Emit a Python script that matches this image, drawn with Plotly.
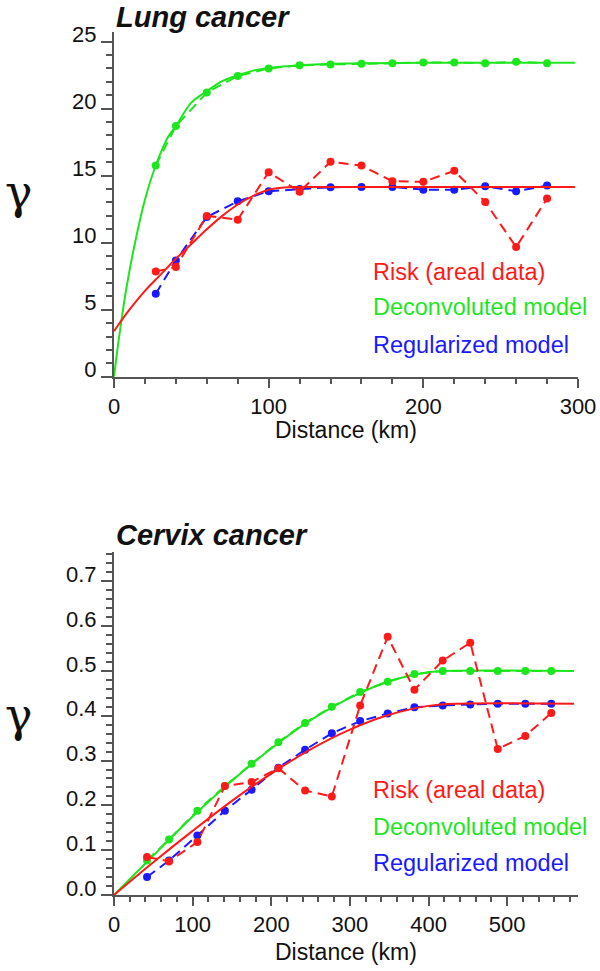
import plotly.graph_objects as go

# ---------------- Lung cancer (top) ----------------
lung_lags = [27, 40, 60, 80, 100, 120, 140, 160, 180, 200, 220, 240, 260, 280]
lung_risk = [7.85, 8.18, 12.0, 11.72, 15.26, 13.8, 16.04, 15.76, 14.59, 14.54, 15.36, 13.04, 9.68, 13.29]
lung_deconv = [15.76, 18.7, 21.2, 22.44, 23.0, 23.24, 23.3, 23.36, 23.39, 23.44, 23.44, 23.39, 23.5, 23.39]
lung_regul = [6.19, 8.68, 11.92, 13.09, 13.84, 14.0, 14.14, 14.16, 14.16, 13.96, 13.96, 14.21, 13.84, 14.26]

lung_risk_model_x = [0, 10, 20, 30, 40, 50, 60, 70, 80, 90, 100, 110, 120, 298]
lung_risk_model_y = [3.4, 5.0, 6.4, 7.6, 8.8, 9.9, 11.0, 12.0, 12.85, 13.5, 13.95, 14.12, 14.16, 14.16]
lung_deconv_model_x = [0, 2, 4, 8, 13.6, 20, 27, 35, 40, 50, 60, 70, 80, 90, 100, 120, 150, 200, 298]
lung_deconv_model_y = [0, 1.85, 3.55, 6.6, 10.0, 13.2, 15.76, 17.9, 18.7, 20.45, 21.3, 22.05, 22.5, 22.84, 23.03, 23.24, 23.38, 23.42, 23.42]

# ---------------- Cervix cancer (bottom) ----------------
cervix_lags = [42, 70, 106, 141, 175, 209, 243, 277, 313, 348, 382, 418, 453, 488, 523, 556]
cervix_risk = [0.085, 0.075, 0.118, 0.243, 0.252, 0.283, 0.233, 0.22, 0.423, 0.576, 0.458, 0.523, 0.563, 0.326, 0.355, 0.406]
cervix_deconv = [0.077, 0.124, 0.188, 0.243, 0.293, 0.341, 0.384, 0.42, 0.453, 0.476, 0.493, 0.50, 0.50, 0.50, 0.50, 0.50]
cervix_regul = [0.040, 0.077, 0.133, 0.188, 0.235, 0.284, 0.324, 0.361, 0.388, 0.405, 0.419, 0.423, 0.425, 0.427, 0.427, 0.427]

cervix_risk_model_x = [0, 50, 100, 150, 200, 250, 300, 350, 400, 440, 585]
cervix_risk_model_y = [0, 0.073, 0.143, 0.21, 0.271, 0.325, 0.369, 0.402, 0.422, 0.427, 0.427]
cervix_deconv_model_x = [0, 50, 100, 150, 200, 250, 300, 350, 400, 420, 585]
cervix_deconv_model_y = [0, 0.088, 0.175, 0.255, 0.327, 0.39, 0.44, 0.477, 0.497, 0.50, 0.50]

legend_labels = ["Risk (areal data)", "Deconvoluted model", "Regularized model"]

RED = "#ff1a1a"
GREEN = "#1ee61e"
BLUE = "#1a1aff"
AXIS = "#555555"
FONT = "Liberation Sans"

W, H = 600, 971


def px(x):
    return x / W


def py(y):
    return 1 - y / H


fig = go.Figure()


def add_panel(xa, ya, lags, risk, deconv, regul, rmx, rmy, dmx, dmy):
    dash = "10px,6px"
    fig.add_trace(go.Scatter(x=lags, y=regul, xaxis=xa, yaxis=ya, mode="lines+markers",
                             line=dict(color=BLUE, width=2, dash=dash),
                             marker=dict(color=BLUE, size=8), showlegend=False))
    fig.add_trace(go.Scatter(x=lags, y=deconv, xaxis=xa, yaxis=ya, mode="lines+markers",
                             line=dict(color=GREEN, width=2, dash=dash),
                             marker=dict(color=GREEN, size=8), showlegend=False))
    fig.add_trace(go.Scatter(x=dmx, y=dmy, xaxis=xa, yaxis=ya, mode="lines",
                             line=dict(color=GREEN, width=2, shape="spline"), showlegend=False))
    fig.add_trace(go.Scatter(x=lags, y=risk, xaxis=xa, yaxis=ya, mode="lines+markers",
                             line=dict(color=RED, width=2, dash=dash),
                             marker=dict(color=RED, size=8), showlegend=False))
    fig.add_trace(go.Scatter(x=rmx, y=rmy, xaxis=xa, yaxis=ya, mode="lines",
                             line=dict(color=RED, width=2, shape="spline"), showlegend=False))


add_panel("x", "y", lung_lags, lung_risk, lung_deconv, lung_regul,
          lung_risk_model_x, lung_risk_model_y, lung_deconv_model_x, lung_deconv_model_y)
add_panel("x2", "y2", cervix_lags, cervix_risk, cervix_deconv, cervix_regul,
          cervix_risk_model_x, cervix_risk_model_y, cervix_deconv_model_x, cervix_deconv_model_y)

tickfont = dict(family=FONT, size=22, color="#111111")
common = dict(showline=True, linecolor=AXIS, linewidth=2, ticks="outside", tickcolor=AXIS,
              tickwidth=1.5, showgrid=False, zeroline=False, tickfont=tickfont, automargin=False)

xdom = [px(114), px(578)]
fig.update_layout(
    width=W, height=H, margin=dict(l=0, r=0, t=0, b=0),
    plot_bgcolor="white", paper_bgcolor="white", showlegend=False,
    xaxis=dict(domain=xdom, anchor="y", range=[0, 300], tickvals=[0, 100, 200, 300], ticklen=9,
               minor=dict(dtick=20, tick0=0, ticklen=5, ticks="outside", tickcolor=AXIS, tickwidth=1.5),
               **common),
    yaxis=dict(domain=[py(376.7), py(32.3)], anchor="x", range=[0, 25.7], tickvals=[0, 5, 10, 15, 20, 25],
               ticklen=11, ticklabelshift=-7,
               minor=dict(dtick=1, tick0=0, ticklen=6, ticks="outside", tickcolor=AXIS, tickwidth=1.5),
               **common),
    xaxis2=dict(domain=xdom, anchor="y2", range=[0, 590], tickvals=[0, 100, 200, 300, 400, 500], ticklen=9,
                minor=dict(dtick=20, tick0=0, ticklen=5, ticks="outside", tickcolor=AXIS, tickwidth=1.5),
                **common),
    yaxis2=dict(domain=[py(895), py(551.7)], anchor="x2", range=[0, 0.766],
                tickvals=[0, 0.1, 0.2, 0.3, 0.4, 0.5, 0.6, 0.7], tickformat=".1f",
                ticklen=11, ticklabelshift=-7,
                minor=dict(dtick=0.02, tick0=0, ticklen=6, ticks="outside", tickcolor=AXIS, tickwidth=1.5),
                **common),
)

ann = []


def text(x, y, t, size, color="#111111", family=FONT, xanchor="left"):
    ann.append(dict(x=px(x), y=py(y), xref="paper", yref="paper", text=t, showarrow=False,
                    xanchor=xanchor, yanchor="middle", font=dict(family=family, size=size, color=color)))


# titles
text(114, 16.5, "<b><i>Lung cancer</i></b>", 29)
text(114, 535, "<b><i>Cervix cancer</i></b>", 29)
# gamma symbols
text(19, 192, "γ", 46, family="DejaVu Serif", xanchor="center")
text(19, 715, "γ", 46, family="DejaVu Serif", xanchor="center")
# axis titles
text(346, 430, "Distance (km)", 23, xanchor="center")
text(346, 952, "Distance (km)", 23, xanchor="center")
# legend texts
for ys in [(271.7, 306.7, 345.0), (790.0, 827.3, 863.3)]:
    for lab, yy, col in zip(legend_labels, ys, [RED, GREEN, BLUE]):
        text(371, yy, lab, 23.5, color=col)

fig.update_layout(annotations=ann)
fig.write_html("out.html", config={"displayModeBar": False},
               post_script="document.body.style.margin='0px';document.body.style.overflow='hidden';")
